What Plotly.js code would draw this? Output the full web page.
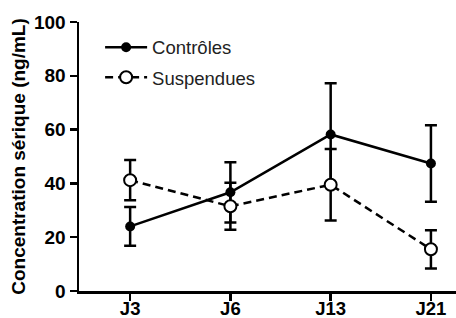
<!DOCTYPE html>
<html><head><meta charset="utf-8">
<script src="https://cdn.plot.ly/plotly-3.0.1.min.js"></script>
<style>html,body{margin:0;padding:0;background:#fff}#chart{width:456px;height:318px}</style>
</head><body><div id="chart"></div>
<script>
const days = ["J3", "J6", "J13", "J21"];
const controles = [24, 36.7, 58.2, 47.4];
const controlesErr = [7.2, 11.2, 19, 14.2];
const suspendues = [41.2, 31.5, 39.5, 15.5];
const suspenduesErr = [7.5, 8.7, 13.3, 7.1];
const yTicks = [0, 20, 40, 60, 80, 100];

const traces = [
  {x: days, y: controles, name: "Contrôles", type: "scatter", mode: "lines+markers",
   legendgroup: "a",
   line: {color: "#000", width: 2.5},
   marker: {symbol: "circle", size: 10, color: "#000"},
   error_y: {type: "data", array: controlesErr, visible: true, color: "#000", thickness: 2.5, width: 6}},
  {x: days, y: suspendues, name: "Suspendues", type: "scatter", mode: "lines+markers",
   legendgroup: "b",
   line: {color: "#000", width: 2.5, dash: "8px,5px"},
   marker: {symbol: "circle", size: 12, color: "#fff", line: {color: "#000", width: 2}},
   error_y: {type: "data", array: suspenduesErr, visible: true, color: "#000", thickness: 2.5, width: 6}}
];

const F = "Liberation Sans, Arial, sans-serif";
const layout = {
  width: 456, height: 318,
  margin: {l: 79, r: 0, t: 22, b: 27},
  paper_bgcolor: "#fff", plot_bgcolor: "#fff",
  font: {family: F, color: "#000"},
  showlegend: true,
  legend: {x: 0.056, y: 0.975, xanchor: "left", yanchor: "top", traceorder: "grouped",
           tracegroupgap: 3, itemwidth: 42, font: {size: 18.5, color: "#222"}, bgcolor: "rgba(0,0,0,0)"},
  xaxis: {type: "category", range: [-0.51, 3.25], showline: true, linecolor: "#000", linewidth: 2.5,
          ticks: "outside", ticklen: 7, tickwidth: 2.5, tickcolor: "#000", showgrid: false, zeroline: false,
          ticklabelstandoff: -8,
          tickfont: {size: 18.5, family: F, weight: "bold"}},
  yaxis: {range: [0, 100], tickvals: yTicks, ticktext: yTicks.map(String), showline: true, linecolor: "#000", linewidth: 2.5,
          ticks: "outside", ticklen: 7, tickwidth: 2.5, tickcolor: "#000", showgrid: false, zeroline: false,
          tickfont: {size: 19, family: F, weight: "bold"},
          title: {text: "Concentration sérique (ng/mL)", standoff: 4,
                  font: {size: 19, family: F, weight: "bold"}}}
};

Plotly.newPlot("chart", traces, layout, {displayModeBar: false, staticPlot: true});
</script></body></html>
